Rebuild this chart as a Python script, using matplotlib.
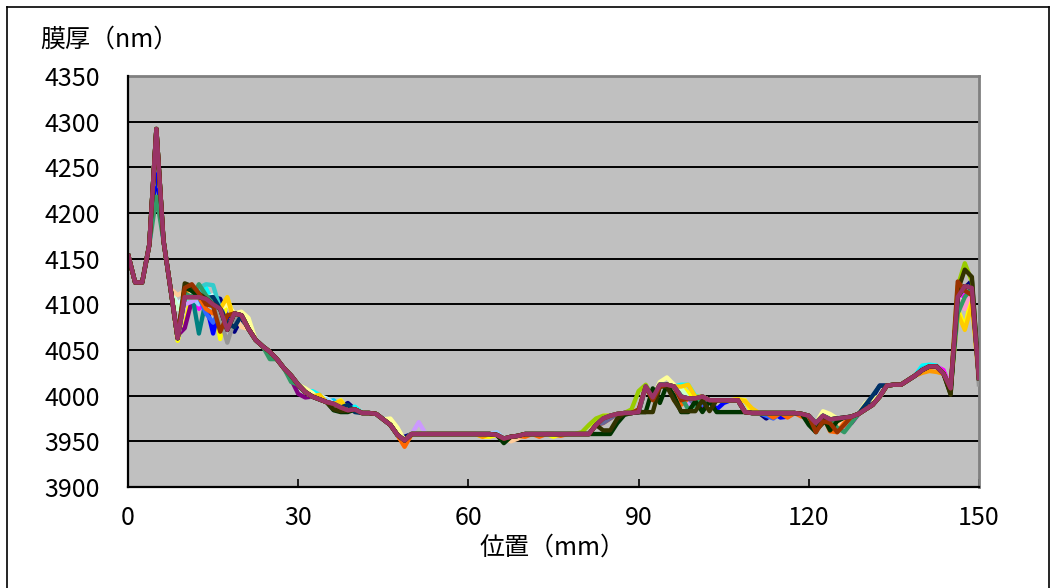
import numpy as np
import matplotlib
matplotlib.use("Agg")
import matplotlib.pyplot as plt
from matplotlib.lines import Line2D

plt.rcParams['font.family'] = ['Noto Sans CJK JP', 'DejaVu Sans']

# measurement positions (mm), one every 1.25 mm
pos_mm = np.arange(0, 150.001, 1.25)

# reference profile (the last, plum coloured series)
base_nm = [
    4155, 4124, 4124, 4165, 4292, 4170, 4117, 4063, 4108, 4108,
    4108, 4106, 4100, 4095, 4072, 4090, 4088, 4073, 4061, 4054,
    4048, 4040, 4030, 4022, 4012, 4004, 3999, 3996, 3993, 3991,
    3987, 3984, 3985, 3981, 3981, 3980, 3974, 3968, 3957, 3951,
    3958, 3958, 3958, 3958, 3958, 3958, 3958, 3958, 3958, 3958,
    3958, 3958, 3957, 3953, 3955, 3956, 3958, 3958, 3958, 3958,
    3958, 3958, 3958, 3958, 3958, 3958, 3968, 3975, 3978, 3980,
    3981, 3981, 3982, 4010, 3998, 4012, 4012, 4010, 3999, 3997,
    3997, 3999, 3995, 3995, 3995, 3995, 3995, 3982, 3981, 3981,
    3981, 3981, 3981, 3981, 3981, 3980, 3978, 3970, 3978, 3974,
    3975, 3976, 3977, 3980, 3985, 3990, 3999, 4011, 4012, 4012,
    4017, 4022, 4028, 4032, 4032, 4024, 4008, 4108, 4120, 4118,
    4017,
]

# Excel default line colours, series 1..30
colors = [
    '#000080', '#FF00FF', '#FFFF00', '#00FFFF', '#800080', '#800000',
    '#008080', '#0000FF', '#00CCFF', '#CCFFFF', '#CCFFCC', '#FFFF99',
    '#99CCFF', '#FF99CC', '#CC99FF', '#FFCC99', '#3366FF', '#33CCCC',
    '#99CC00', '#FFCC00', '#FF9900', '#FF6600', '#666699', '#969696',
    '#003366', '#339966', '#003300', '#333300', '#993300', '#993366',
]

# where the other measurements differ from the reference profile {mm: nm}
dev_navy = {5: 4250, 10: 4095, 13.75: 4105, 15: 4108, 16.25: 4106, 17.5: 4085,
            18.75: 4070, 20: 4085, 38.75: 3992, 48.75: 3955, 112.5: 3975,
            131.25: 3998, 132.5: 4011, 147.5: 4118, 148.75: 4126}
dev_magenta = {10: 4100, 12.5: 4095, 37.5: 3990, 97.5: 4005, 98.75: 3998,
               101.25: 3992, 126.25: 3968, 127.5: 3970, 143.75: 4028, 147.5: 4110}
dev_yellow = {8.75: 4060, 10: 4090, 15: 4105, 16.25: 4062, 17.5: 4107, 18.75: 4085,
              21.25: 4080, 32.5: 4003, 33.75: 4000, 37.5: 3995, 46.25: 3973,
              47.5: 3962, 48.75: 3948, 62.5: 3955, 63.75: 3955, 75: 3955,
              82.5: 3972, 83.75: 3978, 97.5: 4010, 98.75: 4003, 107.5: 3996,
              108.75: 3995, 146.25: 4095, 147.5: 4075, 148.75: 4110}
dev_cyan = {10: 4105, 12.5: 4112, 13.75: 4118, 32.5: 4005, 33.75: 4001, 40: 3988,
            97.5: 4012, 98.75: 4012, 100: 4000, 140: 4033, 141.25: 4034, 142.5: 4033}
dev_purple = {8.75: 4066, 10: 4074, 11.25: 4104, 28.75: 4018, 30: 4002,
              31.25: 3998, 101.25: 3985, 102.5: 3995, 127.5: 3970}
dev_darkred = {10: 4115, 11.25: 4115, 13.75: 4100, 16.25: 4080, 17.5: 4085,
               121.25: 3965}
dev_teal = {10: 4110, 11.25: 4112, 12.5: 4068, 13.75: 4105, 125: 3968, 126.25: 3962}
dev_blue = {5: 4255, 13.75: 4100, 15: 4068, 16.25: 4098, 17.5: 4078, 103.75: 3985,
            105: 3992, 115: 3976, 116.25: 3977}
dev_skyblue = {10: 4110, 12.5: 4115, 36.25: 3995, 97.5: 4005, 140: 4030}
dev_turquoise = {8.75: 4100, 10: 4108, 12.5: 4112, 15: 4110, 33.75: 4000,
                 35: 3997, 147.5: 4100}
dev_ltgreen = {8.75: 4095, 10: 4106, 13.75: 4110, 97.5: 4008}
dev_ltyellow = {17.5: 4100, 20: 4092, 21.25: 4085, 31.25: 4008, 32.5: 4003,
                46.25: 3975, 47.5: 3965, 93.75: 4015, 95: 4020, 96.25: 4012,
                122.5: 3983, 123.75: 3980, 130: 3992, 131.25: 3997}
dev_paleblue = {12.5: 4100, 15: 4090, 35: 3996, 65: 3960, 100: 3990, 101.25: 3995}
dev_rose = {11.25: 4110, 16.25: 4085, 96.25: 4005, 97.5: 3995, 125: 3970,
            126.25: 3965, 147.5: 4095}
dev_lavender = {10: 4100, 11.25: 4103, 51.25: 3971, 98.75: 3990}
dev_tan = {8.75: 4110, 10: 4115, 20: 4075, 67.5: 3950, 68.75: 3953, 123.75: 3968,
           125: 3965}
dev_ltblue = {13.75: 4090, 15: 4080, 101.25: 3990, 112.5: 3978, 113.75: 3975}
dev_aqua = {12.5: 4118, 13.75: 4122, 15: 4121, 16.25: 4095, 38.75: 3988}
dev_lime = {80: 3960, 81.25: 3968, 82.5: 3975, 83.75: 3978, 88.75: 3985, 90: 4005,
            91.25: 4012, 146.25: 4120, 147.5: 4145, 148.75: 4125}
dev_gold = {15: 4098, 17.5: 4108, 18.75: 4080, 33.75: 4001, 37.5: 3994, 97.5: 4010,
            98.75: 4012, 100: 3999, 107.5: 3996, 108.75: 3994, 110: 3986,
            146.25: 4090, 147.5: 4072, 148.75: 4100}
dev_ltorange = {10: 4112, 11.25: 4120, 12.5: 4110, 48.75: 3945, 62.5: 3955,
                66.25: 3950, 140: 4025, 141.25: 4027, 142.5: 4026}
dev_orange = {13.75: 4095, 15: 4090, 48.75: 3944, 70: 3955, 72.5: 3955, 76.25: 3956,
              83.75: 3970, 85: 3975, 96.25: 3995, 97.5: 3990, 113.75: 3976,
              116.25: 3976, 118.75: 3977, 123.75: 3961, 125: 3960, 126.25: 3970}
dev_bluegray = {15: 4098, 83.75: 3970, 85: 3975, 100: 3990}
dev_gray = {15: 4102, 16.25: 4085, 17.5: 4058, 18.75: 4082, 150: 4010}
dev_darkteal = {13.75: 4107, 15: 4108, 16.25: 4095, 17.5: 4080, 18.75: 4075,
                38.75: 3990, 40: 3982, 130: 3990, 131.25: 4000, 132.5: 4011,
                133.75: 4011}
dev_seagreen = {5: 4218, 10: 4112, 12.5: 4122, 13.75: 4110, 25: 4040, 28.75: 4015,
                98.75: 3985, 100: 3990, 125: 3965, 126.25: 3960, 127.5: 3970,
                146.25: 4090, 147.5: 4108}
dev_darkgreen = {10: 4118, 11.25: 4115, 36.25: 3984, 37.5: 3982, 38.75: 3982,
                 66.25: 3948, 82.5: 3958, 83.75: 3958, 85: 3958, 86.25: 3970,
                 87.5: 3979, 90: 3982, 91.25: 3982, 92.5: 4008, 93.75: 3992,
                 95: 4012, 96.25: 4000, 97.5: 3982, 98.75: 3982, 100: 3994,
                 101.25: 3982, 102.5: 3994, 103.75: 3982, 105: 3982, 106.25: 3982,
                 107.5: 3982, 120: 3968, 121.25: 3960, 122.5: 3977, 123.75: 3962,
                 125: 3972, 145: 4002}
dev_olive = {10: 4123, 11.25: 4120, 12.5: 4112, 36.25: 3985, 37.5: 3983,
             83.75: 3962, 85: 3962, 86.25: 3975, 91.25: 3982, 92.5: 3982,
             93.75: 4010, 95: 4010, 96.25: 3995, 97.5: 3983, 98.75: 3983,
             100: 3983, 101.25: 3995, 102.5: 3983, 121.25: 3962, 122.5: 3970,
             145: 4001, 146.25: 4115, 147.5: 4138, 148.75: 4130}
dev_brown = {10: 4118, 11.25: 4122, 12.5: 4112, 13.75: 4100, 15: 4098, 16.25: 4070,
             17.5: 4088, 18.75: 4090, 90: 3985, 91.25: 4010, 92.5: 3995,
             93.75: 4010, 95: 4012, 96.25: 4010, 97.5: 3995, 121.25: 3960,
             122.5: 3972, 123.75: 3970, 125: 3960, 126.25: 3968, 146.25: 4125,
             147.5: 4115, 148.75: 4110}
dev_plum = {}

deviations = [dev_navy, dev_magenta, dev_yellow, dev_cyan, dev_purple, dev_darkred,
              dev_teal, dev_blue, dev_skyblue, dev_turquoise, dev_ltgreen,
              dev_ltyellow, dev_paleblue, dev_rose, dev_lavender, dev_tan,
              dev_ltblue, dev_aqua, dev_lime, dev_gold, dev_ltorange, dev_orange,
              dev_bluegray, dev_gray, dev_darkteal, dev_seagreen, dev_darkgreen,
              dev_olive, dev_brown, dev_plum]

W, H = 1051, 588
fig = plt.figure(figsize=(W / 100, H / 100), dpi=100)
ax = fig.add_axes([128 / W, 1 - 487 / H, (979 - 128) / W, (487 - 76) / H])
ax.set_facecolor('#C0C0C0')

for col, dev in zip(colors, deviations):
    vals = list(base_nm)
    for p, v in dev.items():
        vals[int(round(p / 1.25))] = v
    ax.plot(pos_mm, vals, color=col, lw=3.1, solid_joinstyle='round',
            solid_capstyle='butt', zorder=3)

ax.set_xlim(0, 150)
ax.set_ylim(3900, 4350)
ax.set_xticks(np.arange(0, 151, 30))
ax.set_yticks(np.arange(3900, 4351, 50))
ax.yaxis.grid(True, color='black', lw=1.4)
ax.set_axisbelow(True)

ax.tick_params(axis='x', direction='in', length=6, width=1.2, color='black',
               labelsize=18, pad=13)
ax.tick_params(axis='y', length=0, labelsize=18, pad=20)

for s in ['top', 'right']:
    ax.spines[s].set_color('#808080')
    ax.spines[s].set_linewidth(2)
for s in ['left', 'bottom']:
    ax.spines[s].set_color('black')
    ax.spines[s].set_linewidth(1.6)
    ax.spines[s].set_zorder(4)

fig.text(40 / W, 1 - 40 / H, '膜厚（nm）', fontsize=18, ha='left', va='center')
fig.text(553 / W, 1 - 548 / H, '位置（mm）', fontsize=18, ha='center', va='center')

# outer chart border
for xs, ys in [([7, 7], [7, H + 5]), ([7, W - 2], [7, 7]), ([W - 2, W - 2], [7, H + 5])]:
    fig.add_artist(Line2D([x / W for x in xs], [1 - y / H for y in ys],
                          color='black', lw=1.2, transform=fig.transFigure))

fig.savefig('out.png', dpi=100)
